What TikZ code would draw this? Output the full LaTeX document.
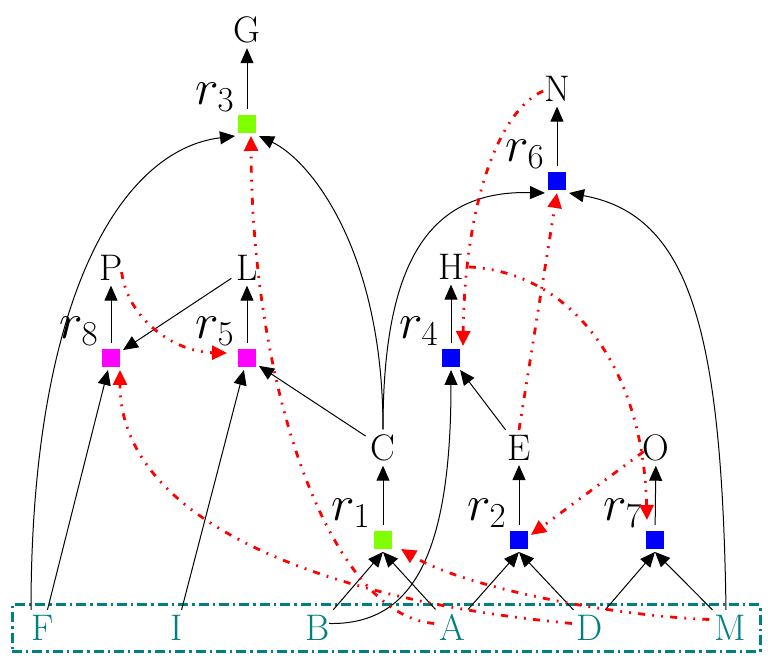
\RequirePackage{fix-cm}
\documentclass[tikz,border=0pt]{standalone}
\usetikzlibrary{arrows.meta}
\definecolor{rgreen}{HTML}{7FFF00}
\definecolor{rblue}{HTML}{0000FF}
\definecolor{rmag}{HTML}{FF00FF}
\definecolor{bteal}{HTML}{008080}
\definecolor{ered}{HTML}{FF0000}
\begin{document}
\begin{tikzpicture}[x=0.5pt,y=-0.5pt,
  txt/.style={font=\fontsize{18.5}{22}\selectfont, inner sep=2pt, outer sep=0.5pt},
  leaf/.style={txt, text=bteal},
  rsq/.style={rectangle, minimum size=9pt, inner sep=0pt, outer sep=1.5pt, fill=#1},
  rlab/.style={font=\fontsize{25}{30}\selectfont, inner sep=0pt},
  arr/.style={-{Triangle[length=7.5pt,width=6.5pt]}, line width=0.5pt, black},
  uparr/.style={arr, shorten <=1.5pt},
  rarr/.style={-{Triangle[length=7.5pt,width=7pt]}, line width=1.4pt, ered,
    dash pattern=on 3.5pt off 3.6pt on 0.9pt off 3.6pt on 0.9pt off 3.6pt},
  boxline/.style={draw=bteal, line width=1.5pt, dash pattern=on 5pt off 2pt on 1.2pt off 2pt}
]
\useasboundingbox (0,0) rectangle (768,672);

% leaf box
\node[boxline, minimum width=374pt, minimum height=23.5pt, inner sep=0pt] (box) at (386,628.5) {};

% text nodes
\node[txt] (G) at (247,30) {G};
\node[txt] (N) at (557,89) {N};
\node[txt] (P) at (111,268) {P};
\node[txt] (L) at (247,268) {L};
\node[txt] (H) at (451,267) {H};
\node[txt] (C) at (383,447.5) {C};
\node[txt] (E) at (519,447.5) {E};
\node[txt] (O) at (656,447.5) {O};

\node[leaf] (F) at (43,627.5) {F};
\node[leaf] (I) at (177,627.5) {I};
\node[leaf] (B) at (318,627.5) {B};
\node[leaf] (A) at (452,627.5) {A};
\node[leaf] (D) at (590,627.5) {D};
\node[leaf] (M) at (730,627.5) {M};

% reaction squares
\node[rsq=rgreen, label={[rlab]north west:$r_3$}] (r3) at (247,124) {};
\node[rsq=rblue,  label={[rlab]north west:$r_6$}] (r6) at (557,181) {};
\node[rsq=rmag,   label={[rlab]north west:$r_8$}] (r8) at (111,358) {};
\node[rsq=rmag,   label={[rlab]north west:$r_5$}] (r5) at (247,358) {};
\node[rsq=rblue,  label={[rlab]north west:$r_4$}] (r4) at (451,358) {};
\node[rsq=rgreen, label={[rlab]north west:$r_1$}] (r1) at (383,540) {};
\node[rsq=rblue,  label={[rlab]north west:$r_2$}] (r2) at (519,540) {};
\node[rsq=rblue,  label={[rlab]north west:$r_7$}] (r7) at (655,540) {};

% products
\draw[uparr] (r3) -- (G);
\draw[uparr] (r6) -- (N);
\draw[uparr] (r8) -- (P);
\draw[uparr] (r5) -- (L);
\draw[uparr] (r4) -- (H);
\draw[uparr] (r1) -- (C);
\draw[uparr] (r2) -- (E);
\draw[uparr] (r7) -- (O);

% reactants, straight
\draw[arr] (L) -- (r8);
\draw[arr] (C) -- (r5);
\draw[arr] (E) -- (r4);
\draw[arr] (F) -- (r8);
\draw[arr] (I) -- (r5);
\draw[arr] (B) -- (r1.south);
\draw[arr] (A) -- (r1.south);
\draw[arr] (A) -- (r2.south);
\draw[arr] (D) -- (r2.south);
\draw[arr] (D) -- (r7.south);
\draw[arr] (M) -- (r7.south);

% reactants, curved
\draw[arr] ([xshift=-6pt]F.north) .. controls (31,300) and (120,150) .. (r3.south west);
\draw[arr] (C.north) .. controls (383,250) and (310,160) .. (r3.south east);
\draw[arr] (C.north) .. controls (383,260) and (430,190) .. (r6.south west);
\draw[arr] ([xshift=-3pt,yshift=2pt]B.east) .. controls (410,625) and (451,560) .. (r4.south);
\draw[arr] ([xshift=-2pt]M.north) .. controls (722,330) and (690,215) .. (r6.south east);

% red dash-dot-dot arrows
\draw[rarr] ([xshift=-3pt,yshift=-2pt]P.east) .. controls (128,320) and (175,352) .. ([xshift=-4pt,yshift=2.5pt]r5.west);
\draw[rarr] ([xshift=2pt,yshift=-1pt]N.west) .. controls (500,110) and (465,200) .. (r4.north east);
\draw[rarr] (E.north) -- (r6.south);
\draw[rarr] (H.east) .. controls (570,272) and (643,365) .. ([xshift=-4pt,yshift=4pt]r7.north);
\draw[rarr] ([xshift=3pt,yshift=-2pt]O.west) -- ([yshift=2.5pt]r2.east);
\draw[rarr] ([yshift=2pt]A.west) .. controls (330,615) and (252,390) .. ([xshift=2pt]r3.south);
\draw[rarr] ([yshift=2pt]D.west) .. controls (320,600) and (120,520) .. ([xshift=-1.5pt]r8.south east);
\draw[rarr] ([yshift=4pt]M.west) .. controls (600,615) and (460,585) .. ([xshift=3pt,yshift=1.5pt]r1.south east);
\end{tikzpicture}
\end{document}
